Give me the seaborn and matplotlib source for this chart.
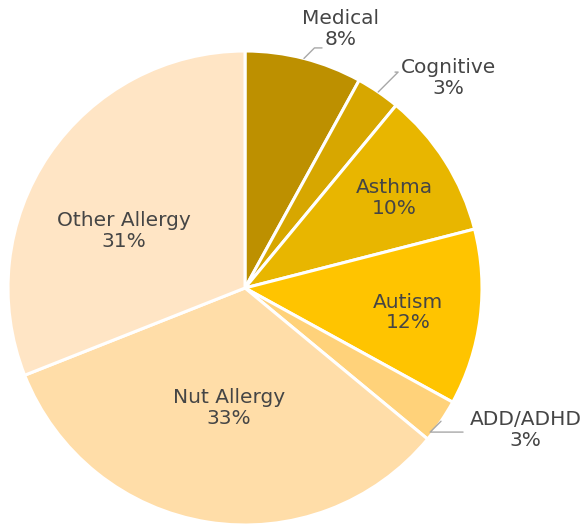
import matplotlib
matplotlib.use("Agg")
import numpy as np
import matplotlib.pyplot as plt
import seaborn as sns

categories = ["Medical", "Cognitive", "Asthma", "Autism", "ADD/ADHD", "Nut Allergy", "Other Allergy"]
shares = [8, 3, 10, 12, 3, 33, 31]
colors = ["#BD9000", "#D7A700", "#E8B600", "#FFC400", "#FFD27A", "#FFDDA8", "#FFE5C5"]

# label placement (data units, pie radius = 1); outside labels get a leader
label_pos = {
    "Medical": (0.405, 1.093),
    "Cognitive": (0.86, 0.886),
    "Asthma": (0.629, 0.38),
    "Autism": (0.688, -0.103),
    "ADD/ADHD": (1.185, -0.60),
    "Nut Allergy": (-0.067, -0.506),
    "Other Allergy": (-0.51, 0.24),
}
leader_end = {"Medical": (0.325, 1.013), "Cognitive": (0.633, 0.911), "ADD/ADHD": (0.92, -0.608)}

sns.set_theme(style="white")
plt.rcParams["font.family"] = ["DejaVu Sans"]

fig = plt.figure(figsize=(5.81, 5.25), dpi=100)
ax = fig.add_axes([8 / 581, 0 / 525, 474 / 581, 474 / 525])

wedges, _ = ax.pie(shares, colors=colors, startangle=90, counterclock=False,
                   wedgeprops=dict(edgecolor="white", linewidth=2.2))
ax.set_xlim(-1, 1)
ax.set_ylim(-1, 1)
ax.set_aspect("equal")
ax.axis("off")

for w, name, val in zip(wedges, categories, shares):
    x, y = label_pos[name]
    ax.text(x, y, f"{name}\n{val}%", ha="center", va="center", fontsize=14.5,
            color="#454545", linespacing=1.1, clip_on=False)
    if name in leader_end:
        mid = np.deg2rad((w.theta1 + w.theta2) / 2)
        ax.annotate("", xy=(np.cos(mid), np.sin(mid)), xytext=leader_end[name],
                    annotation_clip=False,
                    arrowprops=dict(arrowstyle="-", color="#A8A8A8", lw=1,
                                    shrinkA=0, shrinkB=0,
                                    connectionstyle="angle,angleA=0,angleB=45"))

fig.savefig("out.png", dpi=100)
